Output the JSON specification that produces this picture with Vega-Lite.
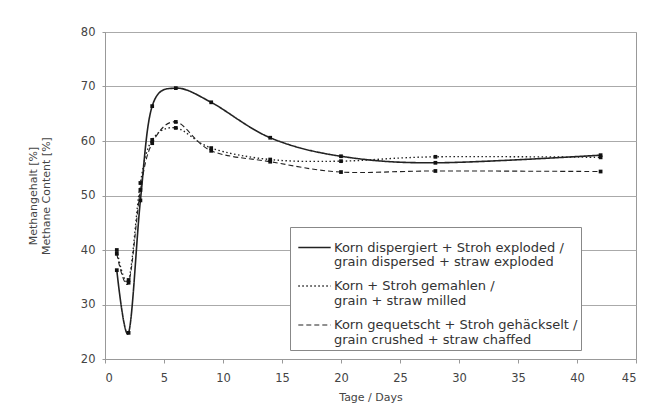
{
  "$schema": "https://vega.github.io/schema/vega-lite/v6.json",
  "width": 531,
  "height": 327,
  "autosize": "none",
  "padding": {"left": 105, "top": 32, "right": 23, "bottom": 55},
  "background": "white",
  "config": {
    "font": "DejaVu Sans",
    "view": {"stroke": "#999", "strokeWidth": 1},
    "axis": {"labelFont": "DejaVu Sans", "titleFont": "DejaVu Sans", "labelColor": "#444", "titleColor": "#444", "titleFontWeight": "normal", "domainColor": "#999", "tickColor": "#999", "gridColor": "#aaa", "labelFontSize": 11.5, "titleFontSize": 11}
  },
  "data": {"values": [
    {"s": "A", "day": 1, "v": 36.3},
    {"s": "A", "day": 2, "v": 24.8},
    {"s": "A", "day": 3, "v": 49.1},
    {"s": "A", "day": 4, "v": 66.4},
    {"s": "A", "day": 6, "v": 69.7},
    {"s": "A", "day": 9, "v": 67.1},
    {"s": "A", "day": 14, "v": 60.6},
    {"s": "A", "day": 20, "v": 57.2},
    {"s": "A", "day": 28, "v": 56.0},
    {"s": "A", "day": 42, "v": 57.4},
    {"s": "B", "day": 1, "v": 40.0},
    {"s": "B", "day": 2, "v": 34.5},
    {"s": "B", "day": 3, "v": 52.3},
    {"s": "B", "day": 4, "v": 60.2},
    {"s": "B", "day": 6, "v": 62.4},
    {"s": "B", "day": 9, "v": 58.7},
    {"s": "B", "day": 14, "v": 56.6},
    {"s": "B", "day": 20, "v": 56.3},
    {"s": "B", "day": 28, "v": 57.1},
    {"s": "B", "day": 42, "v": 57.0},
    {"s": "C", "day": 1, "v": 39.3},
    {"s": "C", "day": 2, "v": 34.0},
    {"s": "C", "day": 3, "v": 51.0},
    {"s": "C", "day": 4, "v": 59.6},
    {"s": "C", "day": 6, "v": 63.5},
    {"s": "C", "day": 9, "v": 58.2},
    {"s": "C", "day": 14, "v": 56.2},
    {"s": "C", "day": 20, "v": 54.3},
    {"s": "C", "day": 28, "v": 54.5},
    {"s": "C", "day": 42, "v": 54.4}
  ]},
  "encoding": {
    "x": {"field": "day", "type": "quantitative", "scale": {"domain": [0, 45]}, "axis": {"title": "Tage / Days", "values": [0,5,10,15,20,25,30,35,40,45], "grid": false, "tickSize": 4, "labelPadding": 9, "titlePadding": 8}},
    "y": {"field": "v", "type": "quantitative", "scale": {"domain": [20, 80]}, "axis": {"title": ["Methangehalt [%]", "Methane Content [%]"], "values": [20,30,40,50,60,70,80], "grid": true, "tickSize": 3, "labelPadding": 7, "titlePadding": 29}}
  },
  "layer": [
    {
      "mark": {"type": "line", "interpolate": "cardinal", "color": "#222"},
      "encoding": {
        "strokeDash": {"field": "s", "type": "nominal",
          "scale": {"domain": ["A", "B", "C"], "range": [[1, 0], [1.5, 2.5], [5, 3]]},
          "legend": {
            "orient": "none", "legendX": 185, "legendY": 195, "title": null,
            "labelExpr": "datum.value == 'A' ? ['Korn dispergiert + Stroh exploded /', 'grain dispersed + straw exploded'] : datum.value == 'B' ? ['Korn + Stroh gemahlen /', 'grain + straw milled'] : ['Korn gequetscht + Stroh gehäckselt /', 'grain crushed + straw chaffed']",
            "labelFont": "DejaVu Sans", "labelFontSize": 13, "labelColor": "#333",
            "symbolType": "stroke", "symbolStrokeColor": "#222", "symbolStrokeWidth": 1.3, "symbolSize": 1050, "symbolOffset": 4,
            "strokeColor": "#888", "fillColor": "white", "padding": 3, "rowPadding": 0, "labelOffset": 2, "labelLimit": 400,
            "encode": {"labels": {"update": {"lineHeight": {"value": 14.5}}}}
          }
        },
        "strokeWidth": {"field": "s", "type": "nominal", "scale": {"domain": ["A", "B", "C"], "range": [1.6, 1.1, 1.5]}, "legend": null}
      }
    },
    {
      "mark": {"type": "point", "shape": "square", "filled": true, "color": "#111", "size": 14, "opacity": 1},
      "encoding": {}
    }
  ]
}
